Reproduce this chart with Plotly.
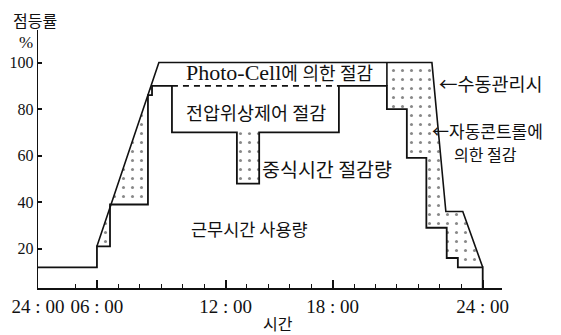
import plotly.graph_objects as go

# ---- data (hours, lighting rate %) ----
# automatic-control / working-hours usage profile (level starts at each hour, step shape)
auto_hours = [3.25, 6.0, 6.61, 8.38, 8.57, 9.5, 12.53, 13.57, 17.29, 19.53, 20.46, 21.37, 22.32, 22.84, 24.0]
auto_rate = [12, 21, 39, 86, 90, 70, 48, 70, 90, 80, 59, 29, 16, 12, 0]

# manual management envelope
manual_hours = [6.0, 8.89, 21.63, 22.28, 23.07, 24.0]
manual_rate = [21, 100, 100, 36, 36, 12]

# photo-cell saving band
photocell_hours = [8.55, 19.53]
photocell_rate = [90, 100]

# voltage-phase control saving band
voltage_hours = [9.5, 17.29]
voltage_rate = [70, 90]

# axis ticks
tick_hours = [3.25, 6, 12, 17, 24]
tick_labels = ["24 : 00", "06 : 00", "12 : 00", "18 : 00", "24 : 00"]
minor_hours = list(range(5, 25))
rate_ticks = [20, 40, 60, 80, 100]

KR = "'Noto Sans CJK KR', sans-serif"
SERIF = "'Liberation Serif', 'Noto Sans CJK KR', serif"
BLACK = "#111111"

fig = go.Figure()

# dotted envelope (everything under the manual-management curve)
env_x = [auto_hours[0], auto_hours[1]] + manual_hours + [auto_hours[-1], auto_hours[0], auto_hours[0]]
env_y = [auto_rate[0], auto_rate[0]] + manual_rate + [0, 0, auto_rate[0]]
fig.add_trace(go.Scatter(
    x=env_x, y=env_y, mode="lines", fill="toself", line=dict(width=0),
    fillcolor="white",
    fillpattern=dict(shape=".", fgcolor=BLACK, bgcolor="white", size=9, solidity=0.09),
    hoverinfo="skip", showlegend=False))

# white working-hours usage region
fig.add_trace(go.Scatter(
    x=auto_hours, y=auto_rate, mode="lines", line_shape="hv", fill="tozeroy",
    fillcolor="white", line=dict(width=0), hoverinfo="skip", showlegend=False))

# white photo-cell band
fig.add_trace(go.Scatter(
    x=[photocell_hours[0], photocell_hours[1], photocell_hours[1], photocell_hours[0], photocell_hours[0]],
    y=[photocell_rate[0], photocell_rate[0], photocell_rate[1], photocell_rate[1], photocell_rate[0]],
    mode="lines", fill="toself", fillcolor="white", line=dict(width=0),
    hoverinfo="skip", showlegend=False))

# white voltage-phase band
fig.add_trace(go.Scatter(
    x=[voltage_hours[0], voltage_hours[1], voltage_hours[1], voltage_hours[0], voltage_hours[0]],
    y=[voltage_rate[0], voltage_rate[0], voltage_rate[1], voltage_rate[1], voltage_rate[0]],
    mode="lines", fill="toself", fillcolor="white", line=dict(width=0),
    hoverinfo="skip", showlegend=False))

# outlines
fig.add_trace(go.Scatter(x=manual_hours, y=manual_rate, mode="lines",
                         line=dict(color=BLACK, width=1.6), hoverinfo="skip", showlegend=False))
fig.add_trace(go.Scatter(x=auto_hours, y=auto_rate, mode="lines", line_shape="hv",
                         line=dict(color=BLACK, width=1.8), hoverinfo="skip", showlegend=False))
fig.add_trace(go.Scatter(x=voltage_hours, y=[voltage_rate[1], voltage_rate[1]], mode="lines",
                         line=dict(color=BLACK, width=1.8, dash="6px,5px"), hoverinfo="skip", showlegend=False))
fig.add_trace(go.Scatter(x=[photocell_hours[1], photocell_hours[1]], y=photocell_rate, mode="lines",
                         line=dict(color=BLACK, width=1.6), hoverinfo="skip", showlegend=False))

ann = []
def label(text, x, y, size=17, xanchor="center", family=KR, xref="x", yref="y"):
    ann.append(dict(text=text, x=x, y=y, xref=xref, yref=yref, showarrow=False,
                    xanchor=xanchor, yanchor="middle",
                    font=dict(family=family, size=size, color=BLACK)))

label('<span style="font-family:Liberation Serif;font-size:22px">Photo-Cell</span>에 의한 절감', 14.54, 95.8, size=18, family=SERIF)
label("전압위상제어 절감", 13.42, 78.8, size=18.5)
label("중식시간 절감량", 13.62, 54.3, size=19.5, xanchor="left")
label("근무시간 사용량", 13.14, 28.8, size=17.5)
label("←수동관리시", 21.88, 91.2, size=18.5, xanchor="left")
label("←자동콘트롤에", 21.53, 71.0, size=17, xanchor="left")
label("의한 절감", 22.58, 60.7, size=16, xanchor="left")

label("점등률", -0.006, 1.037, size=16, xref="paper", yref="paper")
label("%", -0.026, 0.952, size=17, family=SERIF, xref="paper", yref="paper")
label("시간", 0.517, -0.136, size=16, xref="paper", yref="paper")

# the page body adds an 8px offset; margins compensate so the plot area sits at x 38-502, y 30-288
fig.update_layout(
    width=561, height=335, autosize=False,
    margin=dict(l=30, r=67, t=22, b=55),
    paper_bgcolor="white", plot_bgcolor="white",
    annotations=ann,
    xaxis=dict(range=[3.25, 24.9], showgrid=False, zeroline=False, automargin=False,
               showline=True, linecolor=BLACK, linewidth=1.8,
               tickmode="array", tickvals=tick_hours, ticktext=tick_labels,
               ticks="inside", ticklen=8, tickwidth=1.5, tickcolor=BLACK,
               minor=dict(tickvals=minor_hours, ticks="inside", ticklen=4, tickwidth=1.2, tickcolor=BLACK),
               tickfont=dict(family=SERIF, size=19, color=BLACK)),
    yaxis=dict(range=[3.1, 114], showgrid=False, zeroline=False, automargin=False,
               showline=True, linecolor=BLACK, linewidth=1.4,
               tickmode="array", tickvals=rate_ticks,
               ticks="inside", ticklen=4, tickwidth=1.5, tickcolor=BLACK,
               tickfont=dict(family=SERIF, size=16, color=BLACK)),
)

fig.write_html("out.html")
